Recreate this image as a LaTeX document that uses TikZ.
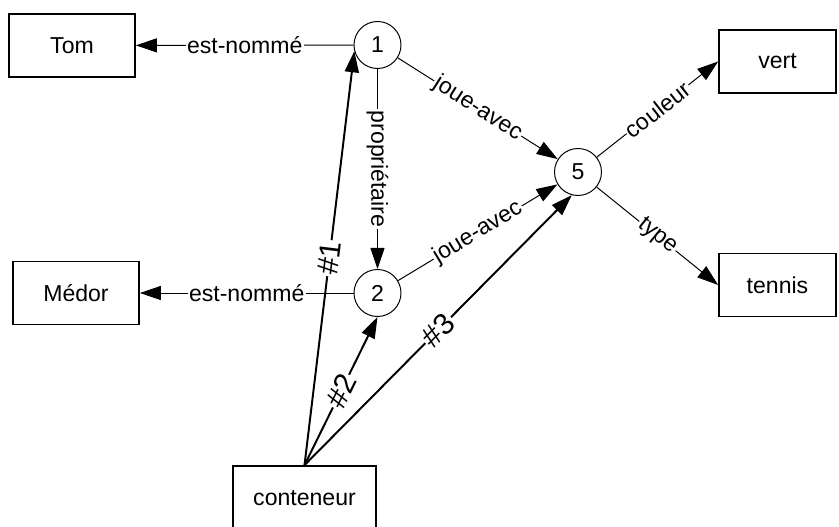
\documentclass[tikz,border=0pt]{standalone}
\usepackage{fontspec}
\setmainfont{Liberation Sans}
\usetikzlibrary{arrows.meta}

\begin{document}
\begin{tikzpicture}
	\tikzset{>={Triangle[length=15pt,width=10pt]}}
	\tikzset{boite/.style={draw,line width=1.2pt,minimum width=3.15cm,minimum height=1.575cm,font=\fontsize{16.4}{18}\selectfont}}
	\tikzset{rond/.style={draw,circle,line width=0.7pt,minimum size=1.175cm,inner sep=0pt,font=\fontsize{16.4}{18}\selectfont}}
	\tikzset{lien/.style={line width=0.7pt}}
	\tikzset{etiq/.style={fill=white,inner sep=1pt,font=\fontsize{16.4}{18}\selectfont}}
	\tikzset{cont/.style={line width=1.4pt}}
	\tikzset{diese/.style={fill=white,inner sep=1pt,sloped,font=\fontsize{21.3}{24}\selectfont}}

	\useasboundingbox (0,0) rectangle (20.975,-13.175);

  \node[boite] (tom) at (1.8,-1.1375) {Tom};
  \node[boite] (medor) at (1.9,-7.325) {Médor};
  \node[boite,minimum width=2.925cm] (vert) at (19.4375,-1.5375) {vert};
  \node[boite,minimum width=2.925cm] (tennis) at (19.4375,-7.125) {tennis};
  \node[boite,minimum width=3.575cm,minimum height=1.6cm] (conteneur) at (7.6125,-12.45) {conteneur};

  \node[rond] (n1) at (9.4375,-1.125) {1};
  \node[rond] (n2) at (9.4375,-7.325) {2};
  \node[rond] (n5) at (14.45,-4.3) {5};

  \draw[lien,->] (n1) -- (tom) node[etiq,pos=0.5] {est-nommé};
  \draw[lien,->] (n2) -- (medor) node[etiq,pos=0.5] {est-nommé};
  \draw[lien,->] (n1) -- (n2) node[etiq,pos=0.5,rotate=-90] {propriétaire};
  \draw[lien,->] (n1) -- (n5) node[etiq,pos=0.5,sloped] {joue-avec};
  \draw[lien,->] (n2) -- (n5) node[etiq,pos=0.5,sloped] {joue-avec};
  \draw[lien,->] (n5) -- (vert.west) node[etiq,pos=0.5,sloped] {couleur};
  \draw[lien,->] (n5) -- (tennis.west) node[etiq,pos=0.5,sloped] {type};

	\draw[cont,->] (conteneur.north) -- (n1.195) node[diese,pos=0.5] {\#1};
	\draw[cont,->] (conteneur.north) -- (n2.south) node[diese,pos=0.5] {\#2};
	\draw[cont,->] (conteneur.north) -- (n5.255) node[diese,pos=0.5] {\#3};

\end{tikzpicture}
\end{document}
